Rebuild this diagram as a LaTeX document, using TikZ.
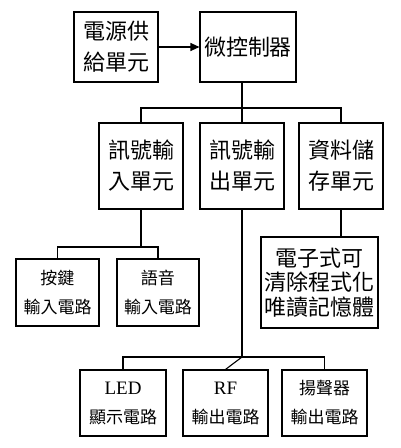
\documentclass[tikz,border=0pt]{standalone}
\usepackage{fontspec}
\setmainfont{Liberation Serif}
\newfontfamily\cjk{Noto Sans CJK TC}
\usetikzlibrary{arrows.meta}
\begin{document}
\begin{tikzpicture}[x=1pt,y=-1pt,
  box/.style={draw,line width=1.1pt,inner sep=0pt,align=center},
  big/.style={font=\cjk\fontsize{22}{31}\selectfont},
  mid/.style={font=\cjk\fontsize{22}{24.5}\selectfont},
  small/.style={font=\cjk\fontsize{17}{29}\selectfont},
  wire/.style={line width=1.1pt}]
\useasboundingbox (0,0) rectangle (400,448);
% top level
\node[box,big,minimum width=84pt,minimum height=70pt] (pwr) at (116,47) {電源供\\給單元};
\node[box,big,minimum width=96pt,minimum height=70pt] (mcu) at (248,47) {微控制器};
% second level
\node[box,big,minimum width=84pt,minimum height=86pt] (sin) at (141,166) {訊號輸\\入單元};
\node[box,big,minimum width=84pt,minimum height=86pt] (sout) at (242,166) {訊號輸\\出單元};
\node[box,big,minimum width=84pt,minimum height=86pt] (stor) at (341,166) {資料儲\\存單元};
% third level
\node[box,small,minimum width=83pt,minimum height=67pt] (key) at (57.5,292.5) {按鍵\\輸入電路};
\node[box,small,minimum width=82pt,minimum height=67pt] (voice) at (158,292.5) {語音\\輸入電路};
\node[box,mid,minimum width=117pt,minimum height=91pt] (eep) at (319.5,282.5) {電子式可\\清除程式化\\唯讀記憶體};
% fourth level
\node[box,small,minimum width=86pt,minimum height=66pt] (led) at (123,403) {{\rmfamily\fontsize{19}{20}\selectfont LED}\\顯示電路};
\node[box,small,minimum width=85pt,minimum height=66pt] (rf) at (225.5,403) {{\rmfamily\fontsize{19}{20}\selectfont RF}\\輸出電路};
\node[box,small,minimum width=85pt,minimum height=66pt] (spk) at (324.5,403) {揚聲器\\輸出電路};
% coordinates for buses
\coordinate (b1) at (242,108);
\coordinate (b2) at (141,247);
\coordinate (b3) at (242,357);
% connectors
\draw[wire,-{Triangle[length=9pt,width=8pt]}] (pwr.east) -- (mcu.west);
\draw[wire] (mcu.south -| b1) -- (b1);
\draw[wire] (sin.north) |- (b1) -| (stor.north);
\draw[wire] (b1) -- (sout.north);
\draw[wire] (sin.south) -- (b2);
\draw[wire] (key.north) |- (b2) -| (voice.north);
\draw[wire] (stor.south) -- (stor.south |- eep.north);
\draw[wire] (sout.south) -- (b3);
\draw[wire] (led.north) |- (b3) -| (spk.north);
\draw[wire] (b3) -- (rf.north);
\end{tikzpicture}
\end{document}
